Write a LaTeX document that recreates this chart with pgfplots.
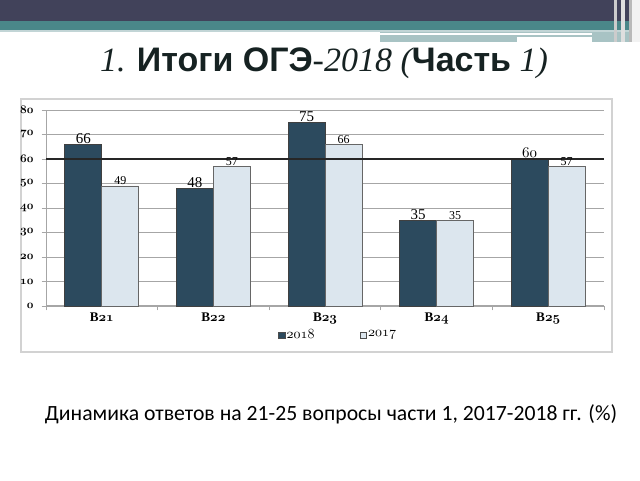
\documentclass[border=0pt]{standalone}
\usepackage{fontspec}
\setmainfont{Liberation Serif}
\newfontfamily\arialb{Liberation Sans}
\newfontfamily\calib{Carlito}
\usepackage{pgfplots}
\pgfplotsset{compat=1.18}
\font\osLeg=cmmi10 at 7pt
\font\osTick=cmmib10 at 5.8pt
\font\osX=cmmib10 at 6.6pt
\font\osLab=cmmi10 at 7.5pt
\definecolor{darkband}{HTML}{41425A}
\definecolor{tealband}{HTML}{4A8789}
\definecolor{lightteal}{HTML}{A8C3C4}
\definecolor{bardark}{HTML}{2C4A5E}
\definecolor{barlight}{HTML}{DCE6EE}
\definecolor{titlecol}{HTML}{162222}
\begin{document}
\begin{tikzpicture}
\useasboundingbox (0,0) rectangle (320pt,240pt);
\fill[white] (0,0) rectangle (320pt,240pt);
\begin{scope}[x=0.5pt,y=-0.5pt,yshift=240pt]
  % top decoration
  \fill[darkband] (0,0) rectangle (640,21);
  \fill[tealband] (0,21) rectangle (640,30);
  \fill[lightteal!70!white] (0,30) rectangle (640,32);
  \fill[lightteal] (380,32) rectangle (640,37);
  \fill[white] (380,33.5) rectangle (592,35);
  \fill[lightteal] (380,37) rectangle (517,42);
  \fill[lightteal] (592,37) rectangle (640,42);
  \fill[gray!40] (614,0) rectangle (617,42);
  \fill[gray!25] (621,0) rectangle (625,42);
  \fill[gray!55] (629,0) rectangle (632,42);
  \fill[white!90!gray] (632,0) rectangle (640,42);
  % chart box
  \draw[gray!35, line width=0.6pt] (21,99) rectangle (612,352);
  % title
  \node[text=titlecol, inner sep=0pt] at (324,63) {\fontsize{17}{20}\selectfont
    {\itshape 1.} {\arialb\bfseries Итоги ОГЭ}{\itshape -2018 (}{\arialb\bfseries Часть}{\itshape\ 1)}};
  % caption
  \node[inner sep=0pt, text=black] at (331,414) {\calib\fontsize{10.85}{12}\selectfont Динамика ответов на 21-25 вопросы части 1, 2017-2018 гг. (\%)};
\end{scope}
\begin{axis}[
  at={(23pt,87pt)}, anchor=south west,
  scale only axis, width=279pt, height=98pt,
  ybar=0pt, bar width=18.5pt,
  xmin=-0.5, xmax=4.5, ymin=0, ymax=80,
  xtick={-0.5,0.5,1.5,2.5,3.5,4.5},
  x tick label as interval,
  xticklabels={{\bfseries B}{\osX 21},{\bfseries B}{\osX 22},{\bfseries B}{\osX 23},{\bfseries B}{\osX 24},{\bfseries B}{\osX 25}},
  xticklabel style={font=\fontsize{6.6}{7}\selectfont, yshift=2.5pt},
  ytick={0,10,...,80},
  yticklabels={{\osTick 0},{\osTick 10},{\osTick 20},{\osTick 30},{\osTick 40},{\osTick 50},{\osTick 60},{\osTick 70},{\osTick 80}},
  yticklabel style={xshift=-0.5pt},
  ymajorgrids, grid style={gray!70, line width=0.4pt},
  axis x line*=bottom, axis y line*=left,
  x axis line style={gray!70, line width=0.5pt},
  y axis line style={gray!70, line width=0.5pt},
  every tick/.style={gray!70, line width=0.4pt},
  tick align=outside, major tick length=2.2pt,
  point meta=explicit symbolic,
  nodes near coords={\pgfplotspointmeta},
  every node near coord/.append style={inner sep=0.3pt, black},
  legend style={at={(0.523,-0.148)}, anchor=center, draw=none, fill=none,
    legend columns=2, font=\fontsize{7}{7}\selectfont,
    /tikz/every even column/.append style={column sep=22pt},
    nodes={inner sep=0.6pt},
    inner sep=0pt},
  legend image code/.code={\draw[#1, draw=black!70, line width=0.3pt] (0pt,-1.6pt) rectangle (3.2pt,1.6pt);},
  clip=false,
]
\addplot[fill=bardark, draw=black!75, line width=0.4pt,
  every node near coord/.append style={font=\fontsize{7.5}{8}\selectfont}]
  coordinates {(0,66) [66] (1,48) [48] (2,75) [75] (3,35) [35] (4,60) [{\osLab 60}]};
\addplot[fill=barlight, draw=black!60, line width=0.4pt,
  every node near coord/.append style={font=\fontsize{6}{6}\selectfont}]
  coordinates {(0,49) [49] (1,57) [57] (2,66) [66] (3,35) [35] (4,57) [57]};
\legend{{\osLeg 2018},{\osLeg 2017}}
\draw[black!85, line width=0.6pt] (axis cs:-0.5,60) -- (axis cs:4.5,60);
\end{axis}
\end{tikzpicture}
\end{document}
